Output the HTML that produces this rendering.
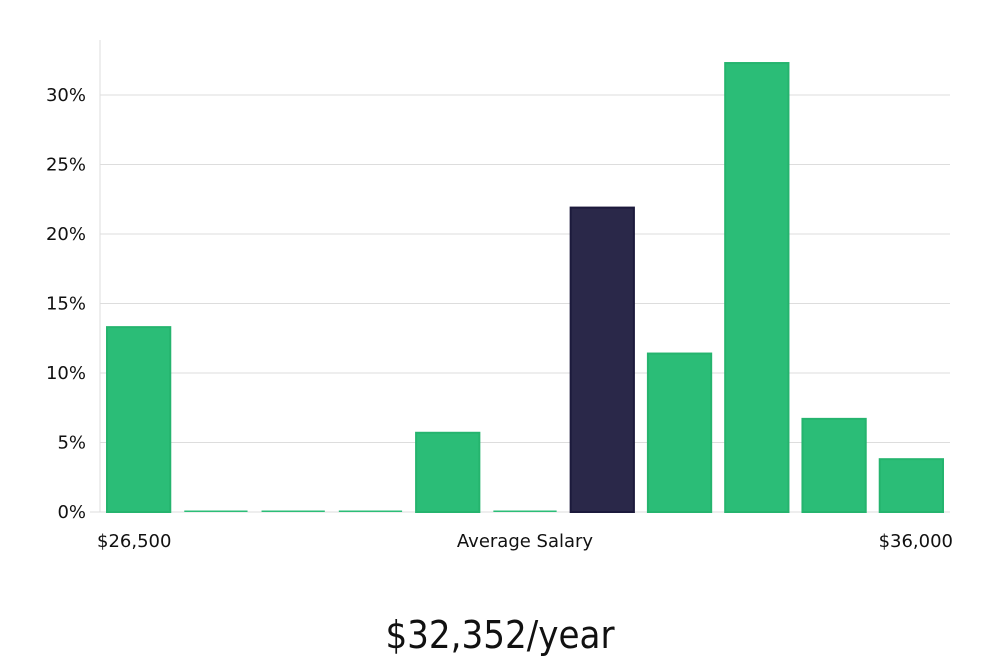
<!DOCTYPE html>
<html><head><meta charset="utf-8">
<style>
html,body{margin:0;padding:0;background:#fff;width:1000px;height:660px;overflow:hidden}
text{font-family:"DejaVu Sans","Liberation Sans",sans-serif}
</style></head>
<body>
<svg id="chart" width="1000" height="660" xmlns="http://www.w3.org/2000/svg">
<g id="grid"></g>
<g id="yticks"></g>
<g id="bars"></g>
<text x="97" y="547" font-size="18" fill="#111">$26,500</text>
<text x="525" y="547" font-size="18" fill="#111" text-anchor="middle">Average Salary</text>
<text x="953" y="547" font-size="18" fill="#111" text-anchor="end">$36,000</text>
<text x="500" y="648" font-size="38" fill="#111" text-anchor="middle" style="font-family:'Liberation Sans Narrow','DejaVu Sans Condensed','Liberation Sans',sans-serif" font-stretch="condensed">$32,352/year</text>
</svg>
<script>
const categories=["b1","b2","b3","b4","b5","b6","b7","b8","b9","b10","b11"];
const values=[13.3,0,0,0,5.7,0,21.9,11.4,32.3,6.7,3.8];
const highlightIndex=6;
const yTicks=[0,5,10,15,20,25,30];
const yTickLabels=["0%","5%","10%","15%","20%","25%","30%"];
const NS="http://www.w3.org/2000/svg";
const x0=100,x1=950,yBase=512,pxPer=(512-95)/30;
const y=v=>yBase-v*pxPer;
const slot=(x1-x0)/categories.length;
const grid=document.getElementById('grid'),yt=document.getElementById('yticks'),bars=document.getElementById('bars');
function mk(t,a){const e=document.createElementNS(NS,t);for(const k in a)e.setAttribute(k,a[k]);return e;}
const axis=mk('line',{x1:x0,x2:x0,y1:40,y2:yBase,stroke:'#ddd','stroke-width':1});


grid.appendChild(axis);
yTicks.forEach((t,i)=>{
  const l=mk('line',{x1:t===0?90:x0,x2:x1,y1:y(t),y2:y(t),stroke:'#ddd','stroke-width':1});
  
  
  grid.appendChild(l);
  const tx=mk('text',{x:86,y:y(t)+6,'font-size':18,fill:'#111','text-anchor':'end'});
  tx.textContent=yTickLabels[i];
  
  
  yt.appendChild(tx);
});
values.forEach((v,i)=>{
  const bx=x0+i*slot+7,bw=slot-14;
  const h=Math.max(v*pxPer,1.5);
  const hi=i===highlightIndex;
  const r=mk('rect',{x:bx,y:yBase-h,width:bw,height:h,fill:hi?'#2a2849':'#2bbd77',stroke:hi?'#1c1a3c':'#25b46e','stroke-width':v>0?2:0});
  
  
  bars.appendChild(r);
});
</script>
</body></html>
